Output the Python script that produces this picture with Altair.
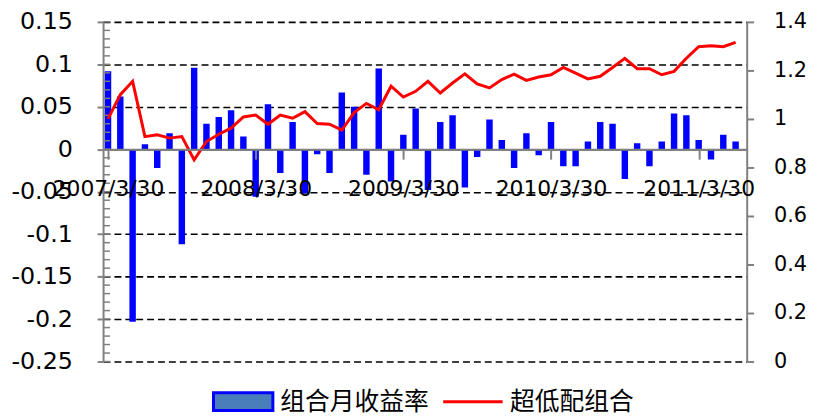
import json
import altair as alt
import pandas as pd

# ---- data ----
dates = [f"{2007 + (i + 2) // 12}/{(i + 2) % 12 + 1}/30" for i in range(52)]

monthly_return = [
    0.092, 0.062, -0.203, 0.006, -0.022, 0.019, -0.112, 0.096, 0.030, 0.038,
    0.046, 0.015, -0.056, 0.053, -0.028, 0.032, -0.052, -0.006, -0.028, 0.067,
    0.050, -0.030, 0.095, -0.038, 0.017, 0.048, -0.048, 0.032, 0.040, -0.045,
    -0.009, 0.035, 0.011, -0.022, 0.019, -0.007, 0.032, -0.020, -0.020, 0.009,
    0.032, 0.030, -0.035, 0.007, -0.020, 0.009, 0.042, 0.040, 0.011, -0.012,
    0.017, 0.009,
]

portfolio_nav = [
    1.000, 1.100, 1.155, 0.927, 0.935, 0.921, 0.927, 0.831, 0.907, 0.937,
    0.962, 1.008, 1.016, 0.978, 1.016, 1.003, 1.030, 0.981, 0.978, 0.954,
    1.026, 1.064, 1.038, 1.135, 1.090, 1.114, 1.155, 1.107, 1.148, 1.186,
    1.144, 1.128, 1.162, 1.185, 1.159, 1.173, 1.182, 1.212, 1.189, 1.165,
    1.176, 1.212, 1.250, 1.207, 1.207, 1.182, 1.196, 1.250, 1.298, 1.302,
    1.298, 1.316,
]

series_names = ["组合月收益率", "超低配组合"]
x_tick_idx = [0, 12, 24, 36, 48]
left_ticks = [0.15, 0.1, 0.05, 0, -0.05, -0.1, -0.15, -0.2, -0.25]
right_ticks = [0, 0.2, 0.4, 0.6, 0.8, 1, 1.2, 1.4]
minor_ticks = [round(-0.25 + 0.01 * i, 2) for i in range(41)]

df = pd.DataFrame({
    "idx": list(range(len(dates))),
    "date": dates,
    "ret": monthly_return,
    "nav": portfolio_nav,
    "s1": series_names[0],
    "s2": series_names[1],
})
df_minor = pd.DataFrame({"v": minor_ticks})

GRAY = "#808080"
NUM_FONT = "DejaVu Sans"
CJK_FONT = "Noto Sans CJK SC"

xscale = alt.Scale(domain=[0, 51.5], nice=False, zero=False)
yleft = alt.Scale(domain=[-0.25, 0.15], nice=False, zero=False)
yright = alt.Scale(domain=[0, 1.4], nice=False, zero=False)

x_axis = alt.Axis(
    values=x_tick_idx,
    labelExpr=f"{json.dumps(dates)}[datum.value]",
    title=None, grid=False, offset=-214.4, zindex=1,
    domainColor=GRAY, domainWidth=2, tickColor=GRAY, tickWidth=2, tickSize=10,
    labelFont=NUM_FONT, labelFontSize=22, labelColor="black", labelPadding=20,
    labelOverlap=False, labelFlush=False,
)

left_axis = alt.Axis(
    values=left_ticks, labelExpr="'' + datum.value", title=None,
    grid=True,
    gridColor={"condition": {"test": "datum.value === 0", "value": GRAY}, "value": "black"},
    gridDash={"condition": {"test": "datum.value === 0", "value": []}, "value": [7, 4]},
    gridWidth=1.6,
    domainColor=GRAY, domainWidth=2, tickColor=GRAY, tickWidth=2, tickSize=6,
    labelFont=NUM_FONT, labelFontSize=24, labelColor="black", labelPadding=25,
)

right_axis = alt.Axis(
    orient="right", values=right_ticks, labelExpr="'' + datum.value", title=None,
    grid=False,
    domainColor=GRAY, domainWidth=2, tickColor=GRAY, tickWidth=2, tickSize=7,
    labelFont=NUM_FONT, labelFontSize=21, labelColor="black", labelPadding=20,
)

bars = alt.Chart(df).mark_bar(size=6.5, clip=True, fill="#0000FF").encode(
    x=alt.X("idx:Q", scale=xscale, axis=x_axis),
    y=alt.Y("ret:Q", scale=yleft, axis=left_axis),
)

# legend-only layer (draws no marks): supplies the bar series' legend entry
bar_legend = alt.Chart(df).transform_filter("false").mark_bar(size=6.5).encode(
    x=alt.X("idx:Q", scale=xscale, axis=x_axis),
    y=alt.Y("ret:Q", scale=yleft, axis=left_axis),
    fill=alt.Fill(
        "s1:N",
        scale=alt.Scale(domain=[series_names[0]], range=["#4A7EBB"]),
        legend=alt.Legend(
            title=None, orient="none", legendX=110, legendY=352, padding=0,
            symbolType="M-1,-0.3H1V0.3H-1Z", symbolSize=3600,
            symbolStrokeColor="#0000FF", symbolStrokeWidth=3,
            labelFont=CJK_FONT, labelFontSize=25, labelColor="black",
            labelOffset=6, labelLimit=0,
        ),
    ),
)

minor = alt.Chart(df_minor).mark_rule(color=GRAY, strokeWidth=1.5).encode(
    y=alt.Y("v:Q", scale=yleft, axis=left_axis),
    x=alt.value(0),
    x2=alt.value(7),
)

line = alt.Chart(df).mark_line(strokeWidth=3).encode(
    x=alt.X("idx:Q", scale=xscale, axis=x_axis),
    y=alt.Y("nav:Q", scale=yright, axis=right_axis),
    color=alt.Color(
        "s2:N",
        scale=alt.Scale(domain=[series_names[1]], range=["#FF0000"]),
        legend=alt.Legend(
            title=None, orient="none", legendX=342, legendY=352, padding=0,
            symbolType="stroke", symbolSize=3600, symbolStrokeWidth=3,
            labelFont=CJK_FONT, labelFontSize=25, labelColor="black",
            labelOffset=6, labelLimit=0,
        ),
    ),
)

chart = alt.layer(alt.layer(bars, bar_legend, minor), line).resolve_scale(
    y="independent", color="independent", fill="independent"
).properties(
    width=650, height=343,
    padding={"left": 96, "top": 12, "right": 71, "bottom": 57},
    autosize=alt.AutoSizeParams(type="none"),
    background="white",
).configure_view(stroke=None)

chart.save("out.html", embed_options={"renderer": "svg", "actions": False})
